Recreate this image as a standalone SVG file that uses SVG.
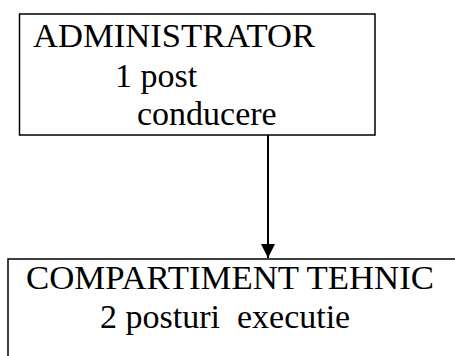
<svg xmlns="http://www.w3.org/2000/svg" width="455" height="356" viewBox="0 0 455 356">
<style>
.box{fill:#fff;stroke:#000;stroke-width:1.5}
.t{font-family:"Liberation Serif","Times New Roman",serif;font-size:34px;fill:#000}
.conn{stroke:#000;stroke-width:2;fill:none}
</style>
<defs>
<marker id="ah" markerUnits="userSpaceOnUse" markerWidth="16" markerHeight="16" refX="14" refY="7" orient="auto">
<path d="M0,0 L14,7 L0,14 Z" fill="#000"/>
</marker>
</defs>
<rect width="455" height="356" fill="#fff"/>
<g id="connectors">
<line class="conn" x1="268" y1="135" x2="268" y2="258" marker-end="url(#ah)"/>
</g>
<g id="administrator">
<rect class="box" x="19.5" y="14" width="355.5" height="121"/>
<text class="t" x="33" y="47" textLength="282" lengthAdjust="spacingAndGlyphs">ADMINISTRATOR</text>
<text class="t" x="115" y="87">1 post</text>
<text class="t" x="137" y="125">conducere</text>
</g>
<g id="compartiment">
<rect class="box" x="8" y="259" width="460" height="120"/>
<text class="t" x="26" y="289" textLength="408" lengthAdjust="spacingAndGlyphs">COMPARTIMENT TEHNIC</text>
<text class="t" x="100" y="328" xml:space="preserve">2 posturi  executie</text>
</g>
</svg>
